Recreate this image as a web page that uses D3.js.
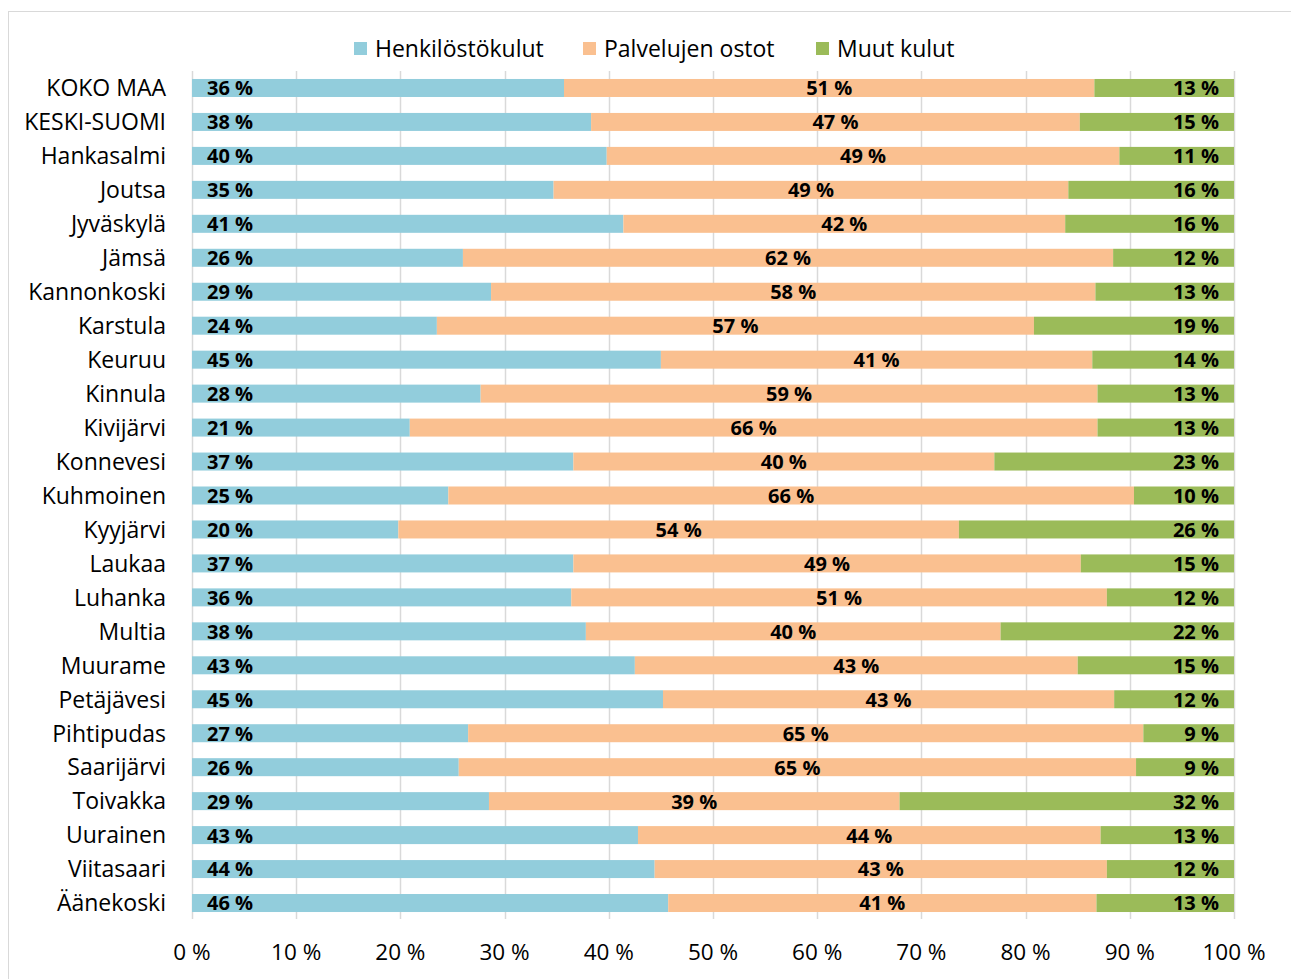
<!DOCTYPE html>
<html><head><meta charset="utf-8">
<script src="https://cdn.jsdelivr.net/npm/d3@7"></script>
<style>body{margin:0;background:#fff}svg{display:block}</style>
</head><body>
<svg id="c" width="1291" height="979"></svg>
<script>
const categories = ["KOKO MAA","KESKI-SUOMI","Hankasalmi","Joutsa","Jyväskylä","Jämsä","Kannonkoski","Karstula","Keuruu","Kinnula","Kivijärvi","Konnevesi","Kuhmoinen","Kyyjärvi","Laukaa","Luhanka","Multia","Muurame","Petäjävesi","Pihtipudas","Saarijärvi","Toivakka","Uurainen","Viitasaari","Äänekoski"];
const henkilosto = [35.7,38.3,39.8,34.7,41.4,26.0,28.7,23.5,45.0,27.7,20.9,36.6,24.6,19.8,36.6,36.4,37.8,42.5,45.2,26.5,25.6,28.5,42.8,44.4,45.7];
const palvelut   = [50.9,46.9,49.2,49.4,42.4,62.4,58.0,57.3,41.4,59.2,66.0,40.4,65.8,53.8,48.7,51.4,39.8,42.5,43.3,64.8,65.0,39.4,44.4,43.4,41.1];
const muut       = [13.4,14.8,11.0,15.9,16.2,11.6,13.3,19.2,13.6,13.1,13.1,23.0,9.6,26.4,14.7,12.2,22.4,15.0,11.5,8.7,9.4,32.1,12.8,12.2,13.2];
const seriesNames = ["Henkilöstökulut","Palvelujen ostot","Muut kulut"];
const seriesColors = ["#92CDDC","#FAC090","#9BBB59"];
const xTicks = [0,10,20,30,40,50,60,70,80,90,100];

const FONT = "'Open Sans', Lato, sans-serif";
const svg = d3.select("#c");
svg.append("rect").attr("x",8.5).attr("y",11.5).attr("width",1300).attr("height",1000)
  .attr("fill","#fff").attr("stroke","#d9d9d9").attr("stroke-width",1);

const x = d3.scaleLinear().domain([0,100]).range([192,1234]);
const y = d3.scaleBand().domain(categories).range([71,920]).paddingInner(0.47).paddingOuter(0.235);

// gridlines
svg.append("g").selectAll("line").data(xTicks).join("line")
  .attr("x1",d=>Math.round(x(d))+0.5).attr("x2",d=>Math.round(x(d))+0.5)
  .attr("y1",71).attr("y2",919).attr("stroke","#d9d9d9").attr("stroke-width",1.5);

const rows = categories.map((c,i)=>({cat:c, vals:[henkilosto[i],palvelut[i],muut[i]]}));
const stackData = rows.map(r=>{let acc=0; return r.vals.map((v,k)=>{const s={cat:r.cat,k,v,x0:acc,x1:acc+v}; acc+=v; return s;});}).flat();

svg.append("g").selectAll("rect").data(stackData).join("rect")
  .attr("x",d=>x(d.x0)).attr("width",d=>x(d.x1)-x(d.x0))
  .attr("y",d=>y(d.cat)).attr("height",y.bandwidth())
  .attr("fill",d=>seriesColors[d.k]);

// data labels
svg.append("g").selectAll("text").data(stackData).join("text")
  .attr("x",d=> d.k===0 ? x(d.x0)+15 : d.k===1 ? (x(d.x0)+x(d.x1))/2 : x(d.x1)-15)
  .attr("y",d=>y(d.cat)+y.bandwidth()/2)
  .attr("dy","0.37em")
  .attr("text-anchor",d=> d.k===0?"start":d.k===1?"middle":"end")
  .attr("font-family",FONT).attr("font-weight","bold").attr("font-size",20).attr("fill","#000")
  .text(d=>Math.round(d.v)+" %");

// category labels
svg.append("g").selectAll("text").data(categories).join("text")
  .attr("x",166).attr("y",d=>y(d)+y.bandwidth()/2).attr("dy","0.36em")
  .attr("text-anchor","end").attr("font-family",FONT).attr("font-size",23).attr("fill","#000")
  .text(d=>d);

// x axis labels
svg.append("g").selectAll("text").data(xTicks).join("text")
  .attr("x",d=>x(d)).attr("y",952).attr("dy","0.36em").attr("text-anchor","middle")
  .attr("font-family",FONT).attr("font-size",22.5).attr("fill","#000")
  .text(d=>d+" %");

// legend
const legX = [354,583,816];
const lg = svg.append("g").selectAll("g").data(seriesNames).join("g");
lg.append("rect").attr("x",(d,i)=>legX[i]).attr("y",42).attr("width",13).attr("height",13)
  .attr("fill",(d,i)=>seriesColors[i]);
lg.append("text").attr("x",(d,i)=>legX[i]+21).attr("y",48.5).attr("dy","0.36em")
  .attr("font-family",FONT).attr("font-size",23).attr("fill","#000").text(d=>d);
</script>
</body></html>
